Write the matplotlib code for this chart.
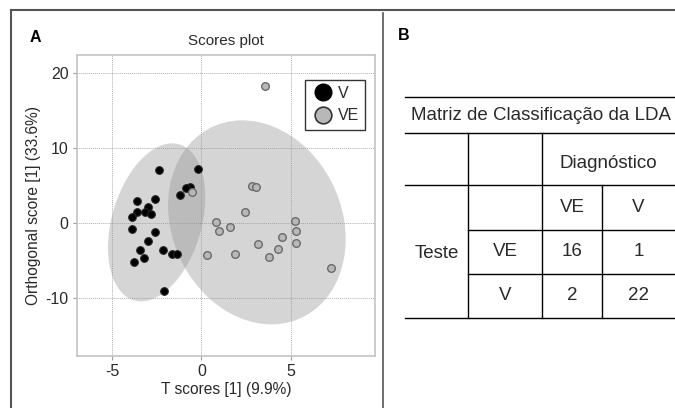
import matplotlib.pyplot as plt
import numpy as np
from matplotlib.patches import Ellipse
from matplotlib.lines import Line2D

plt.rcParams["font.family"] = ["Liberation Sans", "DejaVu Sans"]
plt.rcParams["axes.unicode_minus"] = False

# ---- panel A data: OPLS-DA scores ----
v_x = [-2.38, -0.17, -0.66, -0.88, -1.18, -3.60, -3.01, -2.61, -3.58, -3.17,
       -2.84, -3.86, -3.89, -2.58, -2.96, -3.44, -2.12, -3.20, -3.79, -1.63,
       -1.34, -2.08]
v_y = [7.05, 7.22, 4.73, 4.58, 3.65, 2.87, 2.14, 3.14, 1.49, 1.49,
       1.20, 0.82, -0.87, -1.29, -2.49, -3.65, -3.58, -4.76, -5.22, -4.12,
       -4.23, -9.12]
ve_x = [3.58, 2.83, 3.05, -0.50, 2.46, 0.84, 0.97, 1.58, 0.32, 1.90,
        3.18, 3.76, 4.30, 4.51, 5.23, 5.27, 5.29, 7.24]
ve_y = [18.25, 4.90, 4.81, 4.05, 1.38, 0.13, -1.11, -0.58, -4.36, -4.14,
        -2.80, -4.58, -3.51, -1.91, 0.18, -1.07, -2.71, -6.10]

# ---- panel B data: LDA classification matrix ----
classes = ["VE", "V"]
matrix = [[16, 1], [2, 22]]

INK = "#2a2a2a"
GRAY_FACE, GRAY_EDGE = "#b8b8b8", "#6a6a6a"


def conf_ellipse(ax, x, y, chi2=5.991):
    # 95% normal-theory ellipse from the sample covariance
    x, y = np.asarray(x), np.asarray(y)
    cov = np.cov(x, y)
    vals, vecs = np.linalg.eigh(cov)
    angle = np.degrees(np.arctan2(vecs[1, 1], vecs[0, 1]))
    w, h = 2 * np.sqrt(chi2 * vals[1]), 2 * np.sqrt(chi2 * vals[0])
    ax.add_patch(Ellipse((x.mean(), y.mean()), w, h, angle=angle,
                         facecolor="#969696", edgecolor="none", alpha=0.4, zorder=1))


fig = plt.figure(figsize=(6.75, 4.08), dpi=100)

# outer frame lines
fig.add_artist(Line2D([11 / 675, 1], [1 - 10 / 408] * 2, color="#555555", lw=1.5))
fig.add_artist(Line2D([11 / 675] * 2, [0, 1 - 10 / 408], color="#555555", lw=1.5))
fig.add_artist(Line2D([383 / 675] * 2, [0, 1 - 13 / 408], color="#555555", lw=1.2))

# ---------------- panel A ----------------
ax = fig.add_axes([77 / 675, 1 - 356 / 408, 298 / 675, 301 / 408])
conf_ellipse(ax, v_x, v_y)
conf_ellipse(ax, ve_x, ve_y)
ax.scatter(v_x, v_y, s=30, c="black", edgecolors="#222222", linewidths=0.8, zorder=3)
ax.scatter(ve_x, ve_y, s=30, c=GRAY_FACE, edgecolors=GRAY_EDGE, linewidths=1.0, zorder=3)

ax.set_xlim(-6.95, 9.7)
ax.set_ylim(-17.8, 22.4)
ax.set_xticks([-5, 0, 5])
ax.set_yticks([-10, 0, 10, 20])
ax.grid(True, color="#b0b0b0", linestyle=(0, (1, 1)), linewidth=0.7)
ax.set_axisbelow(True)
for s in ax.spines.values():
    s.set_color("#c4c4c4")
    s.set_linewidth(1.2)
ax.tick_params(length=3, width=0.8, color="#9a9a9a", labelsize=11.5, labelcolor=INK, pad=3)
ax.set_xlabel("T scores [1] (9.9%)", fontsize=11.2, color=INK, labelpad=2)
ax.set_ylabel("Orthogonal score [1] (33.6%)", fontsize=11.2, color=INK, labelpad=3)
ax.set_title("Scores plot", fontsize=11, color=INK, pad=7)

handles = [
    Line2D([], [], marker="o", ls="none", markersize=12, markerfacecolor="black",
           markeredgecolor="black", label="V"),
    Line2D([], [], marker="o", ls="none", markersize=12, markerfacecolor=GRAY_FACE,
           markeredgecolor="#333333", markeredgewidth=1.2, label="VE"),
]
leg = ax.legend(handles=handles, loc="upper right", bbox_to_anchor=(0.968, 0.918),
                fontsize=11.5, frameon=True, fancybox=False, handletextpad=0.15,
                borderpad=0.4, labelspacing=0.45, handlelength=1.5, borderaxespad=0)
leg.get_frame().set_edgecolor("black")
leg.get_frame().set_linewidth(1.0)
for t in leg.get_texts():
    t.set_color(INK)

fig.text(30 / 675, 1 - 38 / 408, "A", fontsize=11.5, fontweight="bold", va="center")

# ---------------- panel B ----------------
fig.text(398 / 675, 1 - 36 / 408, "B", fontsize=11.5, fontweight="bold", va="center")

tb = fig.add_axes([0, 0, 1, 1], facecolor="none")
tb.set_xlim(0, 675)
tb.set_ylim(408, 0)
tb.axis("off")

x0, x1, x2, x3, x4 = 405, 468, 542, 602, 675
lines = [
    (x0, x4, 97), (x0, x4, 133), (x0, x4, 185),
    (x1, x4, 230), (x1, x4, 274), (x0, x4, 318),
]
for xa, xb, yy in lines:
    tb.plot([xa, xb], [yy, yy], color="black", lw=1.0)
tb.plot([x1, x1], [133, 318], color="black", lw=1.0)
tb.plot([x2, x2], [133, 318], color="black", lw=1.0)
tb.plot([x3, x3], [185, 318], color="black", lw=1.0)

kw = dict(fontsize=13.5, ha="center", va="center", color=INK)
tb.text((x0 + x4) / 2 + 1, 115, "Matriz de Classificação da LDA", **kw)
tb.text((x2 + x4) / 2, 164, "Diagnóstico", **kw)
tb.text((x2 + x3) / 2, 208, classes[0], **kw)
tb.text((x3 + x4) / 2, 208, classes[1], **kw)
tb.text((x0 + x1) / 2, 253, "Teste", **kw)
for i, (cls, yy) in enumerate(zip(classes, [252, 296])):
    tb.text((x1 + x2) / 2, yy, cls, **kw)
    tb.text((x2 + x3) / 2, yy, str(matrix[i][0]), **kw)
    tb.text((x3 + x4) / 2, yy, str(matrix[i][1]), **kw)

fig.savefig("out.png", dpi=100)
